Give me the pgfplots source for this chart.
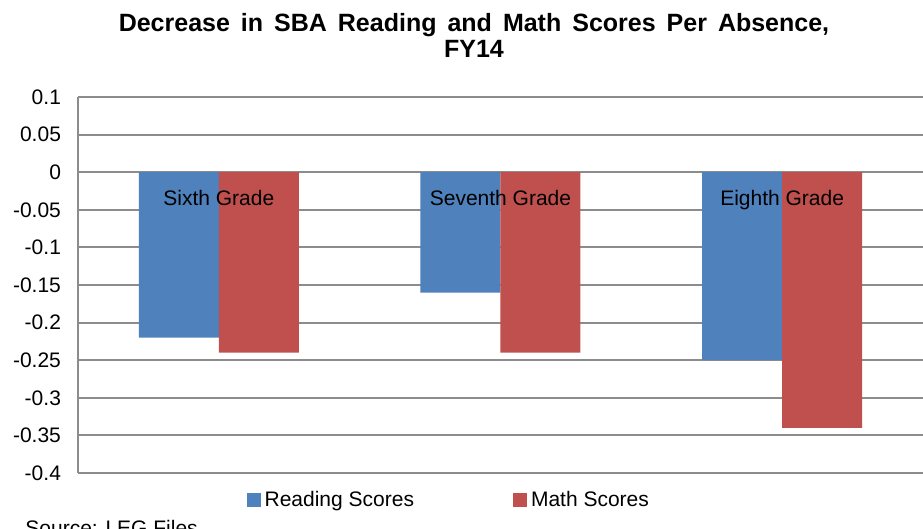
\documentclass[border=0pt]{standalone}
\usepackage{fontspec}
\setmainfont{Liberation Sans}
\usepackage{pgfplots}
\pgfplotsset{compat=1.18}
\definecolor{barblue}{HTML}{4F81BD}
\definecolor{barred}{HTML}{C0504D}
\definecolor{gridgray}{HTML}{8C8C8C}
\begin{document}
\begin{tikzpicture}
\path[use as bounding box] (0,0) rectangle (461.5pt,264.5pt);
\begin{axis}[
  at={(39pt,28pt)}, anchor=south west,
  width=422.5pt, height=188pt, scale only axis,
  xmin=-0.5, xmax=2.5, ymin=-0.4, ymax=0.1,
  axis x line=none, axis y line*=left,
  axis line style={draw=gridgray, line width=1pt},
  ytick={-0.4,-0.35,-0.3,-0.25,-0.2,-0.15,-0.1,-0.05,0,0.05,0.1},
  yticklabels={-0.4,-0.35,-0.3,-0.25,-0.2,-0.15,-0.1,-0.05,0,0.05,0.1},
  ymajorgrids, major grid style={draw=gridgray, line width=1pt},
  major tick length=0pt,
  yticklabel style={font=\fontsize{10.5}{12}\selectfont, anchor=east, xshift=-5pt},
  /pgf/number format/assume math mode=true,
  ybar=0pt, bar width=40pt,
  legend columns=2,
  legend style={at={(0.440,-0.072)}, anchor=center, draw=none, fill=none,
    font=\fontsize{10.5}{12}\selectfont,
    /tikz/every even column/.append style={column sep=47.5pt},
    inner sep=0pt},
  legend image code/.code={\fill[#1] (0pt,-3.5pt) rectangle (7pt,3.5pt);},
]
\addplot[fill=barblue, draw=none] coordinates {(0,-0.22) (1,-0.16) (2,-0.25)};
\addplot[fill=barred, draw=none] coordinates {(0,-0.24) (1,-0.24) (2,-0.34)};
\legend{Reading Scores, Math Scores}
\node[anchor=base, font=\fontsize{10.5}{12}\selectfont] at (axis cs:0,-0.044) {Sixth Grade};
\node[anchor=base, font=\fontsize{10.5}{12}\selectfont] at (axis cs:1,-0.044) {Seventh Grade};
\node[anchor=base, font=\fontsize{10.5}{12}\selectfont] at (axis cs:2,-0.044) {Eighth Grade};
\end{axis}
\node[align=center, font=\fontsize{12.5}{13}\selectfont\bfseries] at (237pt,247pt)
  {\spaceskip=5.5pt\relax Decrease in SBA Reading and Math Scores Per Absence,\\FY14};
\node[anchor=north west, inner sep=0pt, font=\fontsize{10.5}{12}\selectfont] at (12.5pt,4.5pt) {Source: LEG Files};
\end{tikzpicture}
\end{document}
